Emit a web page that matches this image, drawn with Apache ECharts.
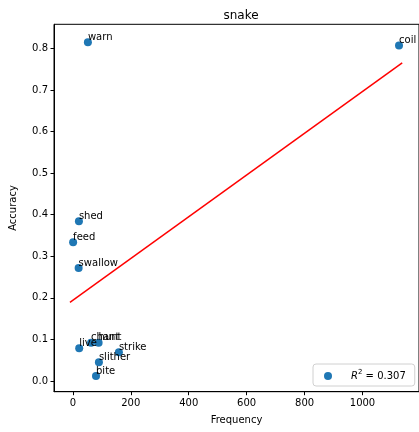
<!DOCTYPE html>
<html>
<head>
    <meta charset="utf-8">
    <title>snake</title>
    <script src="https://cdn.jsdelivr.net/npm/echarts@6/dist/echarts.min.js"></script>
    <style>
        html, body { margin: 0; padding: 0; background: #fff; }
        #chart { width: 419px; height: 432px; }
    </style>
</head>
<body>
<div id="chart"></div>
<script>
    // words, frequency and accuracy
    var words = ['warn', 'coil', 'shed', 'feed', 'swallow', 'live', 'chant', 'hunt', 'strike', 'slither', 'bite'];
    var freq = [52, 1126, 21, 1, 20, 22, 63, 89, 159, 90, 80];
    var acc = [0.815, 0.807, 0.384, 0.334, 0.272, 0.079, 0.092, 0.092, 0.069, 0.045, 0.012];
    // regression line end points
    var fitX = [-10, 1137];
    var fitY = [0.189, 0.765];
    var xTicks = [0, 200, 400, 600, 800, 1000];
    var yTicks = [0.0, 0.1, 0.2, 0.3, 0.4, 0.5, 0.6, 0.7, 0.8];
    var r2Label = 'R2 = 0.307';

    var font = 'DejaVu Sans';
    var points = [];
    for (var i = 0; i < words.length; i++) {
        points.push({ value: [freq[i], acc[i]], name: words[i] });
    }
    var line = [[fitX[0], fitY[0]], [fitX[1], fitY[1]]];

    var chart = echarts.init(document.getElementById('chart'));
    var option = {
        animation: false,
        title: {
            text: 'snake',
            left: 236,
            top: 5,
            textAlign: 'center',
            textStyle: { fontFamily: font, fontSize: 12, fontWeight: 'normal', color: '#000' }
        },
        legend: {
            data: [r2Label],
            left: 313,
            top: 364,
            orient: 'vertical',
            icon: 'circle',
            itemWidth: 8,
            itemHeight: 8,
            itemGap: 0,
            padding: [5, 9, 5, 11],
            backgroundColor: 'rgba(255,255,255,0.8)',
            borderColor: '#d0d0d0',
            borderWidth: 1,
            borderRadius: 3,
            formatter: function () {
                return '{sp|}{i|R}{s|2}{t| = 0.307}';
            },
            textStyle: {
                fontFamily: font,
                fontSize: 10,
                color: '#000',
                rich: {
                    sp: { width: 14 },
                    i: { fontFamily: font, fontSize: 10, fontStyle: 'italic', color: '#000' },
                    s: { fontFamily: font, fontSize: 7, color: '#000', padding: [0, 0, 7, 0] },
                    t: { fontFamily: font, fontSize: 10, color: '#000' }
                }
            }
        },
        grid: {
            left: 51.7,
            top: 24.3,
            width: 369.3,
            height: 367.4,
            show: true,
            borderColor: '#000',
            borderWidth: 1
        },
        xAxis: {
            type: 'value',
            min: -65,
            max: 1195,
            name: 'Frequency',
            nameLocation: 'middle',
            nameGap: 24,
            nameTextStyle: { fontFamily: font, fontSize: 10, color: '#000' },
            splitLine: { show: false },
            axisLine: { onZero: false, lineStyle: { color: '#000' } },
            axisTick: { customValues: xTicks, length: 3.5, lineStyle: { color: '#000' } },
            axisLabel: {
                customValues: xTicks, margin: 7, fontFamily: font, fontSize: 10, color: '#000',
                formatter: function (v) { return String(v); }
            }
        },
        yAxis: {
            type: 'value',
            min: -0.0257,
            max: 0.858,
            name: 'Accuracy',
            nameLocation: 'middle',
            nameGap: 36,
            nameTextStyle: { fontFamily: font, fontSize: 10, color: '#000' },
            splitLine: { show: false },
            axisLine: { onZero: false, lineStyle: { color: '#000' } },
            axisTick: { customValues: yTicks, length: 3.5, lineStyle: { color: '#000' } },
            axisLabel: {
                customValues: yTicks, margin: 6, fontFamily: font, fontSize: 10, color: '#000',
                formatter: function (v) { return v.toFixed(1); }
            }
        },
        series: [{
            name: 'fit',
            type: 'line',
            data: line,
            symbol: 'none',
            lineStyle: { color: '#ff0000', width: 1.5 },
            z: 1
        }, {
            name: r2Label,
            type: 'scatter',
            data: points,
            symbolSize: 8,
            itemStyle: { color: '#1f77b4', opacity: 1 },
            label: {
                show: true,
                position: [4, 4],
                align: 'left',
                verticalAlign: 'bottom',
                formatter: '{b}',
                fontFamily: font,
                fontSize: 10,
                color: '#000'
            },
            z: 2
        }]
    };
    chart.setOption(option);
</script>
</body>
</html>
